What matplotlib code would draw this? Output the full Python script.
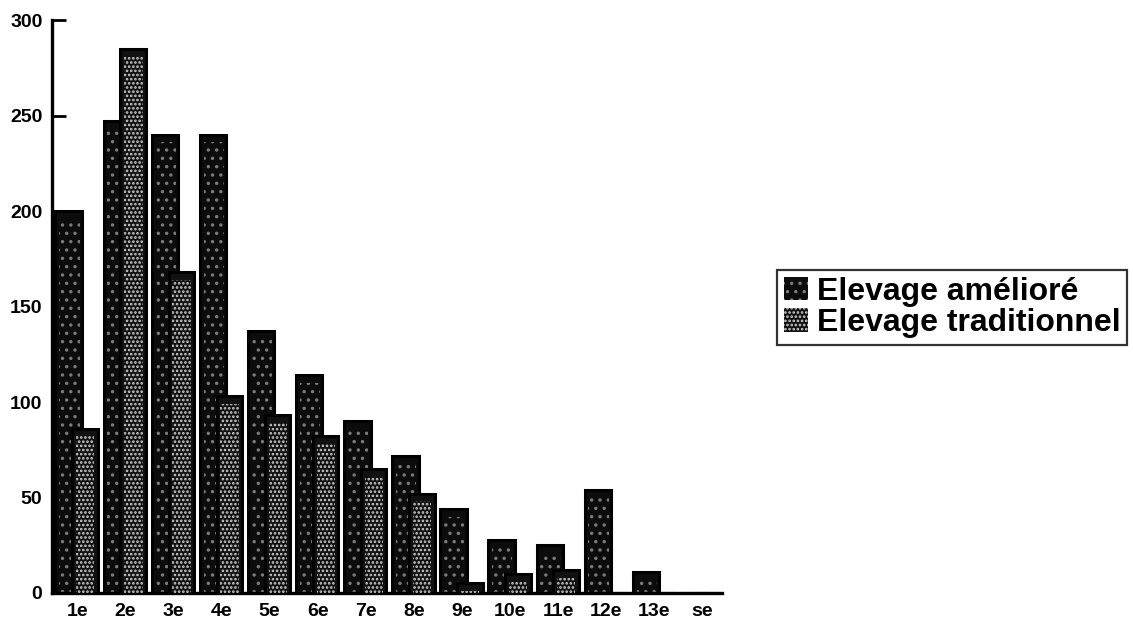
import numpy as np
import matplotlib
matplotlib.use("Agg")
import matplotlib.pyplot as plt
from matplotlib.patches import Rectangle

# classes d'age / rang
categories = ["1e", "2e", "3e", "4e", "5e", "6e", "7e", "8e", "9e", "10e", "11e", "12e", "13e", "se"]
ameliore = [200, 247, 240, 240, 137, 114, 90, 72, 44, 28, 25, 54, 11, 0]
traditionnel = [86, 285, 168, 103, 93, 82, 65, 52, 5, 10, 12, 0, 0, 0]
labels = ["Elevage amélioré", "Elevage traditionnel"]
yticks = [0, 50, 100, 150, 200, 250, 300]

plt.rcParams["font.family"] = ["Liberation Sans", "DejaVu Sans"]
plt.rcParams["font.weight"] = "bold"
plt.rcParams["hatch.linewidth"] = 1.25

fig = plt.figure(figsize=(11.33, 6.24), dpi=100)
ax = fig.add_axes([0.046, 0.0497, 0.591, 0.918])

x = np.arange(len(categories))
am = np.array(ameliore)
tr = np.array(traditionnel)

# barres "amélioré" : noires, pointillé clairsemé
ax.bar(x - 0.35, am, width=0.55, align="edge", color="#0c0c0c",
       edgecolor="black", linewidth=2.2, zorder=2)
ax.bar(x - 0.27, np.clip(am - 4, 0, None), width=0.42, align="edge", color="none",
       edgecolor="#7a7a7a", hatch="..", linewidth=0, zorder=2.1)
# barres "traditionnel" : pointillé dense, dessinées par-dessus
ax.bar(x, tr, width=0.53, align="edge", color="#111111",
       edgecolor="black", linewidth=2.2, zorder=3)
ax.bar(x + 0.08, np.clip(tr - 4, 0, None), width=0.38, align="edge", color="none",
       edgecolor="#cfcfcf", hatch="....", linewidth=0, zorder=3.1)

ax.set_xlim(-0.42, 13.5)
ax.set_ylim(0, 300)
ax.set_yticks(yticks)
ax.set_xticks(x + 0.1)
ax.set_xticklabels(categories)
ax.tick_params(axis="y", direction="in", length=10, width=2, labelsize=14, pad=7)
ax.tick_params(axis="x", length=0, labelsize=14, pad=7)
for s in ["top", "right"]:
    ax.spines[s].set_visible(False)
ax.spines["left"].set_linewidth(2.4)
ax.spines["bottom"].set_linewidth(2.4)

h1 = Rectangle((0, 0), 1, 1, facecolor="#0c0c0c", edgecolor="#7a7a7a", hatch="..", linewidth=0)
h2 = Rectangle((0, 0), 1, 1, facecolor="#111111", edgecolor="#cfcfcf", hatch="....", linewidth=0)
leg = fig.legend([h1, h2], labels, loc="upper left", bbox_to_anchor=(0.686, 0.567),
                 fontsize=23, frameon=True, fancybox=False, edgecolor="black",
                 handlelength=0.75, handleheight=0.75, handletextpad=0.3,
                 borderpad=0.2, labelspacing=0.05, borderaxespad=0)
leg.get_frame().set_linewidth(1.6)
for t in leg.get_texts():
    t.set_fontweight("bold")

fig.savefig("out.png", dpi=100)
